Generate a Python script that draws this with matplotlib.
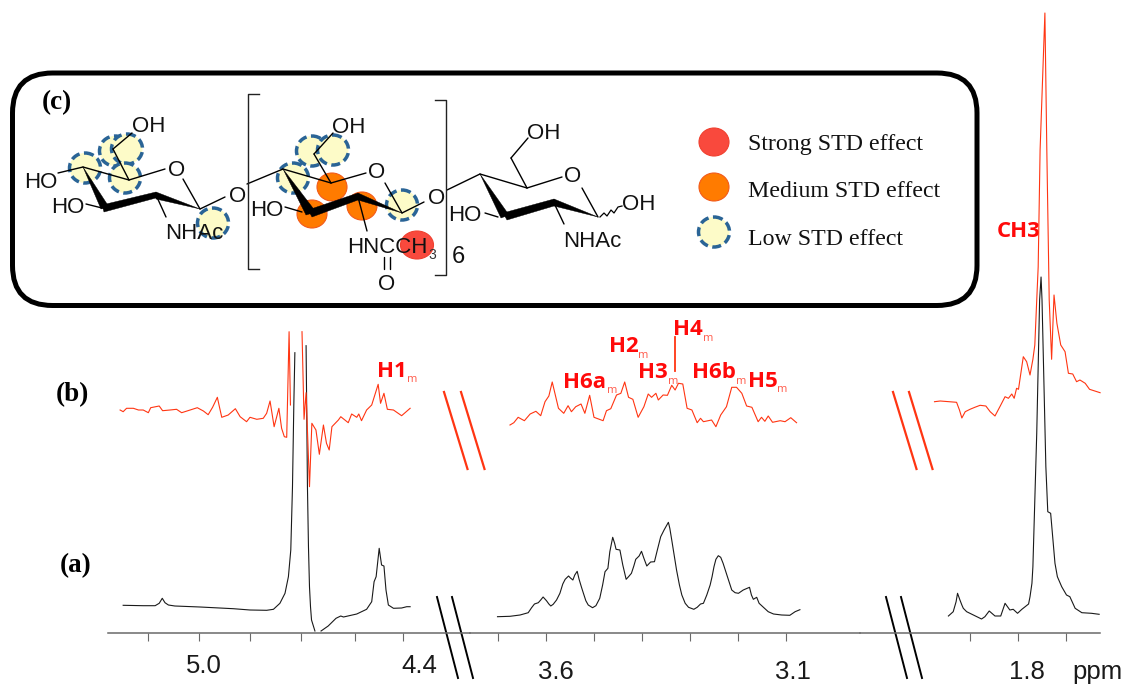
import numpy as np
import matplotlib
matplotlib.use('Agg')
import matplotlib.pyplot as plt
from matplotlib.patches import FancyBboxPatch, Ellipse, Polygon

W, H = 1124, 687
nan = np.nan

# (a) reference spectrum, ppm / intensity
a1_ppm = [5.223, 5.164, 5.129, 5.117, 5.108, 5.100, 5.090, 5.071, 4.997, 4.899, 4.850, 4.801, 4.781, 4.762, 4.747,
          4.737, 4.730, 4.725, 4.721, 4.718, nan, 4.685, 4.681, 4.678, 4.675, 4.672, 4.669, 4.659, nan, 4.641, 4.620,
          4.597, 4.591, 4.583, 4.575, 4.536, 4.507, 4.492, 4.485, 4.479, 4.470, 4.463, 4.456, 4.450, 4.443, 4.428,
          4.404, 4.389, 4.379]
a1_int = [27.7, 27.3, 27.3, 29.7, 34.7, 30.3, 28, 27, 26, 24.3, 23, 22.7, 23.7, 29.7, 39.7,
          56.3, 83, 146.3, 229.7, 280.3, nan, 287.3, 146.3, 86.3, 46.3, 26.3, 13, 2, nan, 2, 7,
          14.7, 15.7, 17, 16, 19, 23.7, 31.3, 51.3, 56.3, 84.7, 68, 67, 43, 28, 24.7,
          25, 26.3, 26.3]
a2_ppm = [3.701, 3.675, 3.654, 3.637, 3.630, 3.624, 3.616, 3.611, 3.606, 3.599, 3.594, 3.590, 3.585, 3.578, 3.571,
          3.565, 3.560, 3.553, 3.549, 3.544, 3.540, 3.535, 3.531, 3.526, 3.522, 3.517, 3.512, 3.503, 3.496, 3.488,
          3.482, 3.477, 3.471, 3.467, 3.461, 3.457, 3.454, 3.446, 3.440, 3.433, 3.428, 3.422, 3.417, 3.413, 3.406,
          3.401, 3.396, 3.390, 3.382, 3.374, 3.368, 3.361, 3.354, 3.345, 3.342, 3.338, 3.333, 3.328, 3.322, 3.317,
          3.310, 3.303, 3.292, 3.285, 3.278, 3.272, 3.265, 3.258, 3.254, 3.250, 3.246, 3.241, 3.236, 3.231, 3.222,
          3.213, 3.206, 3.199, 3.189, 3.176, 3.172, 3.168, 3.161, 3.156, 3.147, 3.137, 3.126, 3.109, 3.092, 3.081,
          3.071]
a2_int = [16.3, 16.7, 18, 20.3, 25.3, 29, 30.3, 33, 36, 32.3, 29, 27, 28.7, 33, 39.7,
          49, 53.7, 57, 55, 53, 58, 61.7, 53.7, 45.7, 39.7, 32.3, 28, 25.3, 27.3, 34.7,
          48, 61.3, 64.7, 81.3, 95.7, 89.7, 83.7, 83, 68, 53.7, 56.3, 59.7, 67, 73.7, 77,
          81.7, 74.7, 67, 71, 71.3, 83, 96.3, 103, 110.7, 104.7, 93, 78, 63, 48, 38,
          29.7, 25.7, 23.7, 25.7, 29, 29.7, 38, 48, 56.3, 66.3, 73.7, 77.3, 75.7, 69.7, 56.3,
          43, 40.3, 39.7, 43, 45.7, 38, 33.7, 35.7, 29.7, 25.7, 21.3, 19, 18, 17.7, 21.3,
          23.3]
a3_ppm = [1.945, 1.935, 1.929, 1.926, 1.921, 1.917, 1.914, 1.907, 1.893, 1.876, 1.869, 1.860, 1.848, 1.836, 1.827,
          1.817, 1.810, 1.801, 1.792, 1.778, 1.775, 1.771, 1.769, 1.767, 1.761, 1.755, 1.752, 1.750, 1.742, 1.738,
          1.732, 1.726, 1.723, 1.718, 1.709, 1.699, 1.692, 1.681, 1.667, 1.647, 1.631]
a3_int = [17, 21.3, 31.3, 39.7, 33, 28, 24.7, 21.3, 18, 14, 16.3, 22, 17, 17, 29.7,
          23, 23.7, 19.7, 23.7, 29, 36.3, 49.7, 66.3, 99.7, 199.7, 333, 356, 333, 166.3, 121.3,
          119.7, 86.3, 69.7, 56.3, 46.3, 38, 36.3, 24.7, 20.3, 19.7, 18.7]

# (b) STD spectrum, ppm / intensity around its own zero
b1_ppm = [5.232, 5.223, 5.213, 5.193, 5.178, 5.164, 5.149, 5.142, 5.117, 5.107, 5.085, 5.066, 5.051, 5.026, 5.005,
          4.987, 4.973, 4.960, 4.946, 4.940, 4.933, 4.914, 4.893, 4.879, 4.860, 4.850, 4.830, 4.811, 4.801, 4.791,
          4.779, 4.765, 4.757, 4.749, 4.742, 4.735, 4.731, nan, 4.697, 4.691, 4.685, 4.675, 4.668, 4.656, 4.646,
          4.634, 4.625, 4.617, 4.609, 4.590, 4.583, 4.561, 4.551, 4.536, 4.530, 4.522, 4.507, 4.492, 4.473, 4.466,
          4.456, 4.446, 4.428, 4.404, 4.379]
b1_int = [0, -1.7, 1.7, 1.7, 0, 0, -2.7, 2.3, 4, -0.7, 0, 0.7, -2.7, 0, 2.3,
          -1, -4.7, 2.7, 12.7, 3.3, -7.3, -5, 1.3, -6.7, -11.7, -7.3, -9.3, -8.3, -3.3, 9,
          -16.7, 1.7, -18.3, -26.7, -27.3, 78.3, 5, nan, 78.3, -9.3, 17.3, -76.7, -13.3, -20, -44.3,
          -15, -33.3, -40, -16.7, -10, -6.7, -12.7, -4, -7.3, -4, -10.7, 0, 5, 25.7, 6.7,
          16.7, 0.7, 0, -5.7, 1.7]
b2_ppm = [3.675, 3.667, 3.658, 3.645, 3.633, 3.621, 3.611, 3.602, 3.594, 3.587, 3.574, 3.563, 3.554, 3.547, 3.538,
          3.527, 3.519, 3.509, 3.500, 3.481, 3.474, 3.465, 3.453, 3.444, 3.436, 3.428, 3.419, 3.408, 3.396, 3.387,
          3.380, 3.371, 3.366, 3.356, 3.347, 3.338, 3.331, 3.324, 3.315, 3.306, 3.296, 3.285, 3.278, 3.272, 3.255,
          3.246, 3.236, 3.224, 3.213, 3.203, 3.192, 3.182, 3.171, 3.158, 3.151, 3.144, 3.137, 3.128, 3.112, 3.102,
          3.090, 3.078]
b2_int = [-15, -12.7, -7.3, -10.7, -4, -1.3, -5.7, 8.3, 14, 28, 1.7, -3.3, 4.3, -1.7, 3.3,
          6, -3.3, 14.7, -7.3, -10.7, -0.7, 1.3, 15, 16.7, 28, 12.7, 10.7, -7.3, 3.3, 16,
          12.7, 16.7, 10, 15, 14.7, 24.7, 20, 26.7, 26, 1.7, 0, -12.7, -8.3, -11.7, -10,
          -16.7, -5, 3.3, 22.7, 22.7, 16.7, 4, 2.7, -11.7, -7.3, -11.3, -6, -12.3, -10.7, -11.7,
          -7.7, -12.7]
b3_ppm = [1.974, 1.962, 1.928, 1.922, 1.917, 1.910, 1.900, 1.890, 1.879, 1.867, 1.858, 1.848, 1.837, 1.827, 1.820,
          1.813, 1.808, 1.803, 1.799, 1.789, 1.782, 1.775, 1.769, 1.765, 1.761, 1.758, 1.754, 1.744, 1.740, 1.735,
          1.730, 1.725, 1.719, 1.711, 1.702, 1.695, 1.686, 1.678, 1.671, 1.660, 1.651, 1.629]
b3_int = [8.3, 9, 7.7, 0, -8, -1.7, 0.7, 2.7, 4.7, 4, -1.7, -6, 4, 13.3, 11.7,
          16, 11.7, 21.7, 20.7, 53.3, 48.3, 35, 50.7, 65, 110, 143, 260, 397, 260, 110,
          50.7, 115, 86.7, 65, 58.3, 36.7, 36, 28.3, 30, 26.7, 20.7, 17.3]

tick_ppm_1 = [5.15, 5.0, 4.85, 4.7, 4.541, 4.4]
tick_ppm_2 = [3.7, 3.6, 3.5, 3.4, 3.3, 3.2, 3.1]
tick_ppm_3 = [1.9, 1.8, 1.7]

legend_labels = ['Strong STD effect', 'Medium STD effect', 'Low STD effect']

red = '#ff2a0a'
line_red = '#ff3512'
orange = '#ff7b00'
blue = '#2a6496'
pale = '#fdfbc8'
axis_grey = '#6a6a6a'
sans = 'Liberation Sans'
serif = 'Liberation Serif'
label_font = 'Open Sans'
std_offset = 223

plt.rcParams['font.family'] = sans

fig = plt.figure(figsize=(W/100, H/100), dpi=100)

# overlay in picture pixels, for the drawn structure and the notes
ov = fig.add_axes([0, 0, 1, 1])
ov.set_xlim(0, W)
ov.set_ylim(H, 0)
ov.axis('off')


def spectrum_axes(left, right, ppm_left, ppm_right, ticks):
    ax = fig.add_axes([left/W, (H-633)/H, (right-left)/W, 633/H])
    ax.patch.set_alpha(0)
    ax.set_xlim(ppm_left, ppm_right)
    ax.set_ylim(0, 633)
    for s in ['top', 'left', 'right']:
        ax.spines[s].set_visible(False)
    ax.spines['bottom'].set_color(axis_grey)
    ax.spines['bottom'].set_linewidth(1.1)
    ax.set_yticks([])
    ax.set_xticks(ticks)
    ax.set_xticklabels([])
    ax.tick_params(axis='x', length=5.5, width=0.8, color=axis_grey)
    return ax


ax1 = spectrum_axes(108, 470, 5.2676, 4.2029, tick_ppm_1)
ax2 = spectrum_axes(470, 860, 3.7583, 2.9458, tick_ppm_2)
ax3 = spectrum_axes(860, 1100, 2.1292, 1.6292, tick_ppm_3)

for ax, px, iy in [(ax1, a1_ppm, a1_int), (ax2, a2_ppm, a2_int), (ax3, a3_ppm, a3_int)]:
    ax.plot(px, iy, '-', color='#1a1a1a', lw=0.8, clip_on=False)
for ax, px, iy in [(ax1, b1_ppm, b1_int), (ax2, b2_ppm, b2_int), (ax3, b3_ppm, b3_int)]:
    ax.plot(px, np.array(iy)+std_offset, '-', color=line_red, lw=0.8, clip_on=False)

# ppm labels sit a little right of their ticks, the first group higher up
for ax, ppm, txt, dx, dy in [(ax1, 5.0, '5.0', 5, 23.5), (ax1, 4.4, '4.4', 16, 23.5), (ax2, 3.6, '3.6', 10, 28),
                             (ax2, 3.1, '3.1', 7, 28), (ax3, 1.8, '1.8', 9, 28)]:
    ax.annotate(txt, xy=(ppm, 0), xycoords=('data', 'axes fraction'), xytext=(dx*0.72, -dy),
                textcoords='offset points', ha='center', va='center', fontsize=18.5, color='#1a1a1a')
ov.text(1097, 672, 'ppm', ha='center', va='center', fontsize=18.5, color='#1a1a1a')

# axis break marks
for x0 in [444, 461, 893, 909]:
    ov.plot([x0, x0+23.5], [392, 469], color=line_red, lw=1.6)
for x0 in [437, 452, 886, 901]:
    ov.plot([x0, x0+21], [597, 678], color='black', lw=1.4)

# peak labels
for name, x, y, mx, my in [('H1', 377, 377, 407, 382), ('H4', 673, 335, 703, 341), ('H2', 609, 352, 638, 358),
                           ('H3', 638, 378, 668, 384), ('H6a', 563, 388, 607, 393), ('H6b', 692, 378, 736, 384),
                           ('H5', 748, 387, 777, 392)]:
    ov.text(x, y, name, family=label_font, weight='bold', fontsize=16, color='#ff0a0a', va='baseline')
    ov.text(mx, my, 'm', family=label_font, fontsize=8, color='#ff5a4a', va='baseline')
ov.text(997, 237, 'CH3', family=label_font, weight='bold', fontsize=16, color='#ff0a0a', va='baseline')
ov.plot([675, 675], [337, 371], color=line_red, lw=1.3)

for txt, x, y in [('(a)', 60, 572), ('(b)', 56, 401), ('(c)', 42, 109)]:
    ov.text(x, y, txt, family=serif, weight='bold', fontsize=19.5, color='black', va='baseline')

# rounded frame
ov.add_patch(FancyBboxPatch((52.5, 113), 884.5, 152.5, boxstyle='round,pad=40,rounding_size=40',
                            fc='white', ec='black', lw=3.6, zorder=1))

# STD effect circles
for cx, cy in [(85, 168), (115, 151), (127, 149), (125, 178), (213, 223),
               (312, 151), (333, 150), (293, 178), (402, 205), (714, 232)]:
    ov.add_patch(Ellipse((cx, cy), 31, 30, fc=pale, ec=blue, lw=2.5, ls=(0, (2.6, 1.3)), zorder=2))
for cx, cy in [(332, 187), (312, 214), (362, 206), (714, 187)]:
    ov.add_patch(Ellipse((cx, cy), 30, 28, fc=orange, ec='#f25a1a', lw=0.8, zorder=2))
for cx, cy, rx in [(417, 245, 33), (714, 142, 30)]:
    ov.add_patch(Ellipse((cx, cy), rx, 28, fc='#f9493d', ec='#f0402f', lw=0.8, zorder=2))

# sugar rings, thin bonds
bonds = [
    (58, 173, 83, 167), (83, 167, 129, 180), (129, 180, 165, 169), (183, 179, 200, 209), (200, 209, 225, 197),
    (129, 180, 113, 149), (113, 149, 132, 133), (86, 204, 102, 208), (156, 195, 166, 217),
    (247, 184, 283, 169), (283, 169, 331, 183), (331, 183, 366, 173), (385, 183, 402, 213), (402, 213, 424, 202),
    (331, 183, 314, 154), (314, 154, 333, 133), (285, 207, 302, 212), (358, 197, 367, 231),
    (384, 257, 384, 269), (390, 257, 390, 269),
    (447, 190, 480, 174), (480, 174, 527, 188), (527, 188, 562, 177), (582, 188, 598, 217),
    (527, 188, 511, 158), (511, 158, 528, 138), (485, 213, 498, 217), (554, 203, 564, 224),
]
for x0, y0, x1, y1 in bonds:
    ov.plot([x0, x1], [y0, y1], color='black', lw=1.0, zorder=3, solid_capstyle='round')

# wedge and bold bonds
for pts in [[(83, 167), (101, 209), (109, 207)], [(102, 205), (156, 192), (156, 198), (104, 212)],
            [(156, 192), (200, 209), (156, 199)],
            [(283, 169), (306, 215), (316, 212)], [(308, 210), (358, 193), (358, 200), (312, 217)],
            [(358, 193), (402, 213), (358, 200)],
            [(480, 174), (501, 218), (509, 215)], [(503, 213), (554, 199), (554, 206), (507, 220)],
            [(554, 199), (598, 217), (554, 206)]]:
    ov.add_patch(Polygon(pts, closed=True, fc='black', ec='black', lw=0.3, zorder=3))

ov.plot([600, 604, 607, 611, 614, 618, 622], [217, 213, 216, 210, 213, 207, 206], color='black', lw=0.9, zorder=3)

# brackets
ov.plot([259, 248, 248, 259], [94, 94, 269, 269], color='#222222', lw=1.0, zorder=3)
ov.plot([435, 446, 446, 435], [100, 100, 275, 275], color='#222222', lw=1.0, zorder=3)

for txt, x, y in [('OH', 132, 132), ('HO', 24, 188), ('HO', 51, 213), ('NHAc', 165, 239),
                  ('OH', 332, 133), ('HO', 250, 216), ('HNCCH', 347, 253),
                  ('HO', 448, 221), ('OH', 527, 139), ('OH', 622, 210), ('NHAc', 563, 247)]:
    ov.text(x, y, txt, fontsize=16, color='#111111', va='baseline', zorder=4)
for x, y in [(177, 170), (238, 196), (377, 173), (437, 199), (387, 284), (573, 177)]:
    ov.text(x, y, 'O', fontsize=16, color='#111111', ha='center', va='center', zorder=4)
ov.text(428, 259, '3', fontsize=10, color='#333333', va='baseline', zorder=4)
ov.text(452, 263, '6', fontsize=17, color='#111111', va='baseline', zorder=4)

# legend text in the frame
for txt, y in zip(legend_labels, [150, 197, 245]):
    ov.text(748, y, txt, family=serif, fontsize=17.2, color='#111111', va='baseline', zorder=4)

plt.savefig('out.png', dpi=100)
